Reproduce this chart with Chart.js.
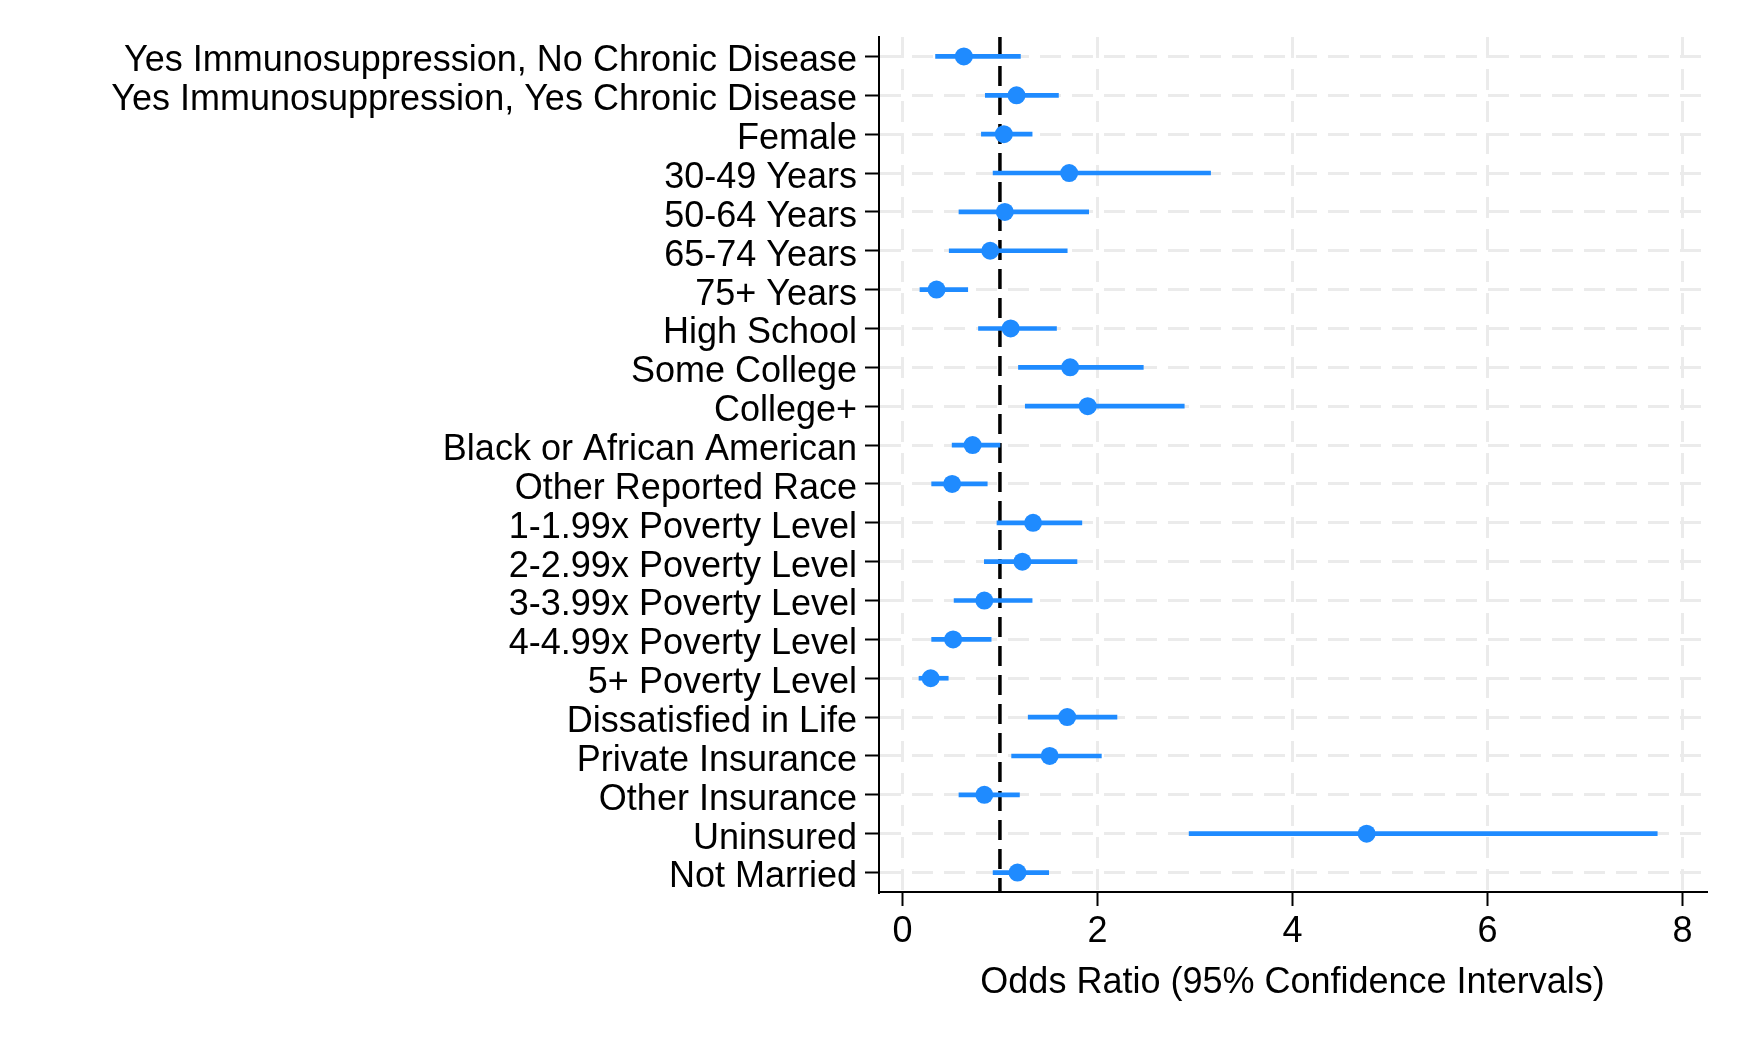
<!DOCTYPE html>
<html>
<head>
<meta charset="utf-8">
<script src="https://cdn.jsdelivr.net/npm/chart.js@4.4.1/dist/chart.umd.min.js"></script>
<style>
  html, body { margin: 0; padding: 0; background: #fff; }
  canvas { display: block; }
</style>
</head>
<body>
<canvas id="forest" width="1744" height="1046"></canvas>
<script>
// 항목 / 값
const categories = [
  'Yes Immunosuppression, No Chronic Disease',
  'Yes Immunosuppression, Yes Chronic Disease',
  'Female',
  '30-49 Years',
  '50-64 Years',
  '65-74 Years',
  '75+ Years',
  'High School',
  'Some College',
  'College+',
  'Black or African American',
  'Other Reported Race',
  '1-1.99x Poverty Level',
  '2-2.99x Poverty Level',
  '3-3.99x Poverty Level',
  '4-4.99x Poverty Level',
  '5+ Poverty Level',
  'Dissatisfied in Life',
  'Private Insurance',
  'Other Insurance',
  'Uninsured',
  'Not Married'
];
const oddsRatio = [0.63, 1.17, 1.04, 1.71, 1.05, 0.90, 0.35, 1.11, 1.72, 1.90, 0.72,
                   0.51, 1.34, 1.23, 0.84, 0.52, 0.29, 1.69, 1.51, 0.84, 4.76, 1.18];
const ciLow     = [0.34, 0.85, 0.81, 0.93, 0.58, 0.48, 0.18, 0.78, 1.19, 1.26, 0.51,
                   0.30, 0.97, 0.84, 0.53, 0.30, 0.17, 1.29, 1.12, 0.58, 2.94, 0.93];
const ciHigh    = [1.21, 1.60, 1.33, 3.16, 1.91, 1.69, 0.67, 1.58, 2.47, 2.89, 1.00,
                   0.87, 1.84, 1.79, 1.33, 0.91, 0.47, 2.20, 2.04, 1.20, 7.74, 1.50];
const xTicks = [0, 2, 4, 6, 8];
const refValue = 1;

const BLUE = '#1f8bff';
const GRID = '#ebebeb';

// x=1 기준 점선
const refLinePlugin = {
  id: 'refLine',
  beforeDatasetsDraw(chart) {
    const { ctx, chartArea, scales } = chart;
    const x = scales.x.getPixelForValue(refValue);
    ctx.save();
    ctx.strokeStyle = '#000';
    ctx.lineWidth = 3.5;
    ctx.setLineDash([20, 9]);
    ctx.beginPath();
    ctx.moveTo(x, chartArea.top);
    ctx.lineTo(x, chartArea.bottom);
    ctx.stroke();
    ctx.restore();
  }
};

Chart.defaults.font.family = '"Liberation Sans", Arial, sans-serif';
Chart.defaults.color = '#000';

new Chart(document.getElementById('forest').getContext('2d'), {
  type: 'bar',
  data: {
    labels: categories,
    datasets: [
      { // 신뢰구간 - 가로 막대
        label: '95% CI'
        ,data: categories.map((_, i) => [ciLow[i], ciHigh[i]])
        ,backgroundColor: BLUE
        ,borderWidth: 0
        ,borderSkipped: false
        ,barThickness: 4
        ,order: 2
      },
      { // 오즈비 - 점
        label: 'Odds Ratio'
        ,type: 'line'
        ,indexAxis: 'y'
        ,data: oddsRatio
        ,showLine: false
        ,pointRadius: 9
        ,pointHoverRadius: 9
        ,pointBackgroundColor: BLUE
        ,pointBorderWidth: 0
        ,order: 1
      }
    ]
  },
  options: {
    indexAxis: 'y',
    responsive: false,
    animation: false,
    maintainAspectRatio: false,
    layout: { padding: { top: 37, right: 38, left: 0, bottom: 0 } },
    plugins: { legend: { display: false }, tooltip: { enabled: false } },
    scales: {
      x: {
        type: 'linear',
        min: -0.24,
        max: 8.24,
        afterBuildTicks: (s) => { s.ticks = xTicks.map(v => ({ value: v })); },
        afterFit: (s) => { s.height = 154; },
        grid: { color: GRID, lineWidth: 3, tickLength: 14, tickColor: '#000', tickWidth: 2 },
        border: { color: '#000', width: 2, dash: [21, 11] },
        ticks: { font: { size: 36 }, padding: 4, maxRotation: 0 },
        title: {
          display: true,
          text: 'Odds Ratio (95% Confidence Intervals)',
          font: { size: 36 },
          padding: { top: 0, bottom: 41 }
        }
      },
      y: {
        type: 'category',
        offset: true,
        afterFit: (s) => { s.width = 879; },
        grid: { offset: false, color: GRID, lineWidth: 3, tickLength: 14, tickColor: '#000', tickWidth: 2 },
        border: { color: '#000', width: 2, dash: [21, 11] },
        ticks: { font: { size: 36 }, padding: 8, labelOffset: 5, autoSkip: false }
      }
    }
  },
  plugins: [refLinePlugin]
});
</script>
</body>
</html>
